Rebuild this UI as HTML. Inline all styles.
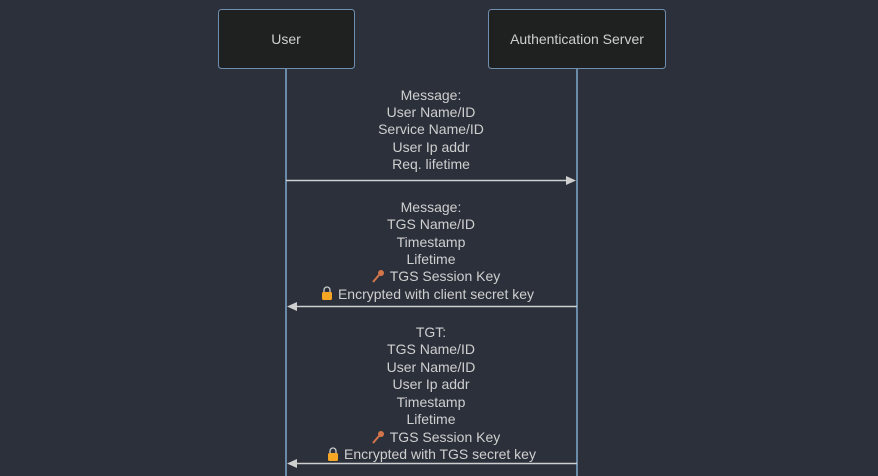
<!DOCTYPE html>
<html><head><style>
html,body{margin:0;padding:0;background:#2b303b;}
svg{display:block;}
text{font-family:"Liberation Sans","DejaVu Sans",sans-serif;font-size:14px;fill:#cfcfcf;text-anchor:middle;dominant-baseline:central;}
</style></head><body>
<svg width="878" height="476" viewBox="0 0 878 476" xmlns="http://www.w3.org/2000/svg">
<rect width="878" height="476" fill="#2b303b"/>
<line x1="286" y1="68" x2="286" y2="476" stroke="#80a8d0" stroke-width="1.5"/>
<line x1="577" y1="68" x2="577" y2="476" stroke="#80a8d0" stroke-width="1.5"/>
<rect x="218.5" y="9.5" width="136" height="59" rx="3" fill="#1f2020" stroke="#6f8fb0"/>
<rect x="488.5" y="9.5" width="177" height="59" rx="3" fill="#1f2020" stroke="#6f8fb0"/>
<text x="286" y="39">User</text>
<text x="577" y="39">Authentication Server</text>

<text x="431" y="95">Message:</text>
<text x="431" y="112">User Name/ID</text>
<text x="431" y="129">Service Name/ID</text>
<text x="431" y="147">User Ip addr</text>
<text x="431" y="164">Req. lifetime</text>
<line x1="286" y1="180.5" x2="568" y2="180.5" stroke="#cfcfcf" stroke-width="1.5"/>
<polygon points="576,180.5 566,176 566,185" fill="#cfcfcf"/>

<text x="431" y="207">Message:</text>
<text x="431" y="224">TGS Name/ID</text>
<text x="431" y="242">Timestamp</text>
<text x="431" y="259">Lifetime</text>
<text x="445" y="276">TGS Session Key</text>
<text x="436" y="294">Encrypted with client secret key</text>
<g transform="translate(372,270)"><circle cx="9" cy="3" r="3" fill="#d4764a"/><line x1="7" y1="5" x2="1" y2="12" stroke="#d4764a" stroke-width="2"/></g>
<g transform="translate(322,287)"><path d="M2,5 V3 a3,3 0 0 1 6,0 V5" fill="none" stroke="#ccc" stroke-width="1.3"/><rect x="0" y="5" width="10" height="8" rx="1.5" fill="#f5a623"/></g>
<line x1="294" y1="306.5" x2="577" y2="306.5" stroke="#cfcfcf" stroke-width="1.5"/>
<polygon points="287,306.5 297,302 297,311" fill="#cfcfcf"/>

<text x="431" y="332">TGT:</text>
<text x="431" y="349">TGS Name/ID</text>
<text x="431" y="367">User Name/ID</text>
<text x="431" y="384">User Ip addr</text>
<text x="431" y="402">Timestamp</text>
<text x="431" y="419">Lifetime</text>
<text x="445" y="437">TGS Session Key</text>
<text x="440" y="454">Encrypted with TGS secret key</text>
<g transform="translate(372,431)"><circle cx="9" cy="3" r="3" fill="#d4764a"/><line x1="7" y1="5" x2="1" y2="12" stroke="#d4764a" stroke-width="2"/></g>
<g transform="translate(328,448)"><path d="M2,5 V3 a3,3 0 0 1 6,0 V5" fill="none" stroke="#ccc" stroke-width="1.3"/><rect x="0" y="5" width="10" height="8" rx="1.5" fill="#f5a623"/></g>
<line x1="294" y1="463.5" x2="577" y2="463.5" stroke="#cfcfcf" stroke-width="1.5"/>
<polygon points="287,463.5 297,459 297,468" fill="#cfcfcf"/>
</svg>
</body></html>
